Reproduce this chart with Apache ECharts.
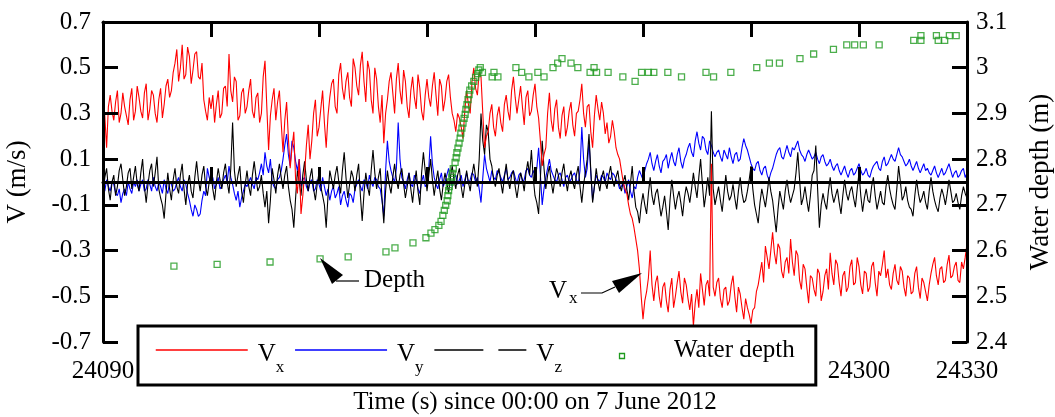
<!DOCTYPE html>
<html>
<head>
<meta charset="utf-8">
<title>Velocity and water depth</title>
<script src="https://cdn.jsdelivr.net/npm/echarts@6/dist/echarts.min.js"></script>
<style>
    html, body {margin: 0; padding: 0; background: #fff;}
    #chart {width: 1055px; height: 417px;}
</style>
</head>
<body>
<div id="chart"></div>
<script>
// velocity readings: one on each whole second from t0, plus one half a second later
var t0 = 24090;

// Vx (m/s), red, whole seconds
var vx = [
    0.36, 0.15, 0.38, 0.27, 0.40, 0.30, 0.33, 0.25, 0.41, 0.31,
    0.37, 0.28, 0.43, 0.32, 0.38, 0.26, 0.41, 0.34, 0.45, 0.40,
    0.52, 0.44, 0.60, 0.47, 0.55, 0.49, 0.57, 0.45, 0.36, 0.27,
    0.32, 0.26, 0.40, 0.30, 0.42, 0.56, 0.35, 0.44, 0.29, 0.41,
    0.33, 0.45, 0.28, 0.39, 0.30, 0.53, 0.14, 0.36, 0.27, 0.40,
    0.13, 0.35, 0.06, 0.22, -0.05, -0.14, 0.04, 0.25, 0.18, 0.36,
    0.24, 0.40, 0.15, 0.37, 0.45, 0.30, 0.52, 0.36, 0.48, 0.33,
    0.50, 0.38, 0.57, 0.35, 0.49, 0.30, 0.45, 0.26, 0.17, 0.36,
    0.48, 0.30, 0.52, 0.34, 0.44, 0.28, 0.46, 0.32, 0.41, 0.27,
    0.45, 0.33, 0.48, 0.29, 0.42, 0.36, 0.47, 0.30, 0.22, 0.28,
    0.19, 0.40, 0.30, 0.50, 0.38, 0.46, 0.15, 0.22, 0.34, 0.20,
    0.33, 0.22, 0.38, 0.27, 0.46, 0.30, 0.42, 0.25, 0.40, 0.31,
    0.43, 0.28, 0.07, 0.15, 0.39, 0.22, 0.36, 0.19, 0.33, 0.24,
    0.35, 0.20, 0.31, 0.43, 0.24, 0.34, 0.15, 0.38, 0.27, 0.30,
    0.26, 0.20, 0.22, 0.12, 0.05, -0.03, -0.10, -0.16, -0.25, -0.38,
    -0.60, -0.48, -0.30, -0.52, -0.41, -0.55, -0.44, -0.57, -0.42, -0.50,
    -0.39, -0.53, -0.45, -0.56, -0.63, -0.47, -0.40, -0.54, -0.43, 0.08,
    -0.50, -0.42, -0.55, -0.46, -0.52, -0.41, -0.57, -0.49, -0.60, -0.55,
    -0.62, -0.55, -0.45, -0.35, -0.28, -0.38, -0.22, -0.36, -0.29, -0.42,
    -0.33, -0.25, -0.41, -0.32, -0.47, -0.38, -0.53, -0.42, -0.50, -0.40,
    -0.48, -0.38, -0.31, -0.45, -0.36, -0.50, -0.39, -0.46, -0.34, -0.44,
    -0.37, -0.49, -0.40, -0.46, -0.35, -0.50, -0.41, -0.30, -0.38, -0.47,
    -0.36, -0.45, -0.39, -0.50, -0.42, -0.48, -0.37, -0.51, -0.44, -0.52,
    -0.40, -0.33, -0.45, -0.37, -0.43, -0.32, -0.41, -0.35, -0.44, -0.38, -0.27
];
// Vx, half seconds
var vxHalf = [
    0.29, 0.33, 0.31, 0.35, 0.26, 0.39, 0.29, 0.36, 0.27, 0.42,
    0.31, 0.39, 0.27, 0.40, 0.30, 0.36, 0.28, 0.42, 0.37, 0.48,
    0.58, 0.50, 0.45, 0.59, 0.43, 0.56, 0.46, 0.52, 0.31, 0.37,
    0.38, 0.34, 0.28, 0.41, 0.33, 0.40, 0.46, 0.27, 0.39, 0.30,
    0.40, 0.31, 0.37, 0.26, 0.46, 0.33, 0.29, 0.41, 0.35, 0.26,
    0.27, 0.19, 0.15, 0.01, 0.10, -0.06, 0.16, 0.10, 0.30, 0.20,
    0.32, 0.26, 0.29, 0.43, 0.33, 0.47, 0.41, 0.44, 0.37, 0.54,
    0.42, 0.51, 0.44, 0.53, 0.36, 0.50, 0.33, 0.38, 0.30, 0.44,
    0.39, 0.45, 0.40, 0.49, 0.33, 0.40, 0.37, 0.47, 0.31, 0.38,
    0.37, 0.42, 0.38, 0.45, 0.31, 0.44, 0.37, 0.27, 0.30, 0.24,
    0.31, 0.34, 0.44, 0.41, 0.48, 0.30, 0.20, 0.30, 0.24, 0.29,
    0.26, 0.34, 0.31, 0.40, 0.37, 0.36, 0.33, 0.37, 0.29, 0.38,
    0.33, 0.18, 0.12, 0.30, 0.27, 0.32, 0.24, 0.29, 0.20, 0.31,
    0.25, 0.30, 0.36, 0.30, 0.33, 0.22, 0.29, 0.32, 0.35, 0.21,
    0.17, 0.27, 0.15, 0.10, 0.00, -0.05, -0.14, -0.20, -0.30, -0.50,
    -0.52, -0.42, -0.45, -0.44, -0.50, -0.46, -0.52, -0.47, -0.55, -0.44,
    -0.48, -0.42, -0.51, -0.49, -0.53, -0.55, -0.47, -0.45, -0.50, -0.46,
    -0.44, -0.51, -0.47, -0.54, -0.45, -0.50, -0.46, -0.55, -0.51, -0.58,
    -0.56, -0.48, -0.40, -0.44, -0.33, -0.30, -0.31, -0.27, -0.39, -0.35,
    -0.40, -0.35, -0.30, -0.43, -0.36, -0.46, -0.41, -0.47, -0.38, -0.52,
    -0.41, -0.47, -0.40, -0.34, -0.44, -0.41, -0.48, -0.37, -0.45, -0.33,
    -0.45, -0.39, -0.48, -0.37, -0.44, -0.39, -0.36, -0.42, -0.45, -0.40,
    -0.43, -0.37, -0.46, -0.41, -0.49, -0.40, -0.46, -0.42, -0.48, -0.45,
    -0.36, -0.41, -0.38, -0.44, -0.36, -0.42, -0.37, -0.43, -0.35, -0.33
];

// Vy (m/s), blue
var vy = [
    -0.02, 0.01, -0.04, -0.01, -0.06, -0.09, -0.03, 0.00, -0.05, -0.02,
    -0.04, 0.01, -0.03, -0.01, 0.02, -0.04, -0.02, 0.01, -0.05, -0.01,
    -0.03, 0.02, -0.04, -0.01, -0.08, -0.15, -0.12, -0.14, -0.04, 0.06,
    0.00, -0.03, 0.02, -0.02, 0.03, 0.07, -0.01, -0.08, -0.11, -0.04,
    -0.02, 0.02, -0.03, 0.01, 0.08, 0.13, 0.04, 0.00, -0.03, 0.02,
    0.10, 0.21, 0.07, 0.15, 0.05, -0.02, 0.02, -0.04, 0.01, -0.03,
    -0.01, 0.02, -0.06, -0.08, -0.02, -0.05, -0.10, -0.04, -0.11, -0.06,
    -0.03, 0.01, -0.04, 0.00, 0.03, -0.02, 0.01, -0.03, -0.15, 0.18,
    0.05, 0.00, 0.26, 0.02, -0.03, 0.04, -0.02, 0.01, -0.05, 0.03,
    -0.01, 0.20, 0.02, -0.03, 0.04, 0.00, 0.06, -0.02, 0.03, 0.01,
    -0.02, 0.04, 0.01, 0.03, 0.02, -0.09, 0.12, 0.03, 0.05, 0.01,
    0.04, 0.00, 0.06, 0.02, 0.05, -0.01, 0.04, 0.01, 0.06, 0.02,
    0.03, 0.15, -0.10, 0.02, 0.10, 0.03, 0.00, 0.04, -0.02, 0.03,
    0.01, 0.04, -0.01, 0.24, 0.02, 0.18, -0.08, 0.03, 0.00, 0.02,
    0.04, 0.01, 0.03, 0.00, -0.02, -0.05, 0.01, -0.07, -0.03, 0.05,
    0.01, 0.08, 0.13, 0.05, 0.12, 0.04, 0.10, 0.06, 0.13, 0.07,
    0.15, 0.06, 0.12, 0.17, 0.11, 0.22, 0.14, 0.19, 0.12, 0.16,
    0.11, 0.14, 0.09, 0.12, 0.15, 0.08, 0.13, 0.10, 0.19, 0.14,
    0.08, 0.05, 0.09, 0.03, 0.07, 0.01, 0.06, 0.12, 0.15, 0.10,
    0.16, 0.11, 0.14, 0.18, 0.12, 0.09, 0.14, 0.10, 0.13, 0.08,
    0.12, 0.07, 0.10, 0.05, 0.08, 0.03, 0.07, 0.02, 0.06, 0.04,
    0.08, 0.03, 0.06, 0.02, 0.07, 0.09, 0.05, 0.11, 0.08, 0.12,
    0.09, 0.15, 0.11, 0.07, 0.10, 0.05, 0.09, 0.04, 0.08, 0.06,
    0.03, 0.07, 0.02, 0.06, 0.04, 0.08, 0.02, 0.05, 0.03, 0.06, 0.04
];
var vyHalf = [
    -0.04, -0.02, 0.00, -0.05, -0.03, -0.05, -0.06, -0.03, 0.00, 0.01,
    -0.01, -0.04, 0.01, -0.04, -0.02, 0.00, -0.05, -0.03, 0.00, -0.04,
    0.00, -0.02, 0.01, -0.05, -0.12, -0.10, -0.15, -0.08, -0.06, 0.02,
    0.02, -0.01, -0.03, 0.01, 0.00, 0.02, -0.05, -0.04, -0.07, -0.01,
    0.00, -0.01, 0.02, 0.04, 0.03, 0.07, 0.10, -0.02, 0.01, 0.05,
    0.16, 0.12, 0.18, 0.09, 0.10, 0.01, -0.02, 0.00, -0.04, 0.01,
    -0.04, -0.02, -0.03, -0.04, -0.07, -0.02, -0.06, -0.08, -0.05, -0.09,
    -0.01, -0.02, 0.01, -0.03, 0.00, 0.02, -0.02, -0.08, 0.05, 0.09,
    0.02, 0.06, 0.10, 0.00, 0.01, -0.01, 0.03, -0.03, 0.00, -0.02,
    0.06, 0.08, -0.01, 0.01, -0.02, 0.03, 0.01, 0.02, -0.01, 0.03,
    0.01, -0.01, 0.04, 0.00, -0.03, 0.02, 0.06, 0.00, 0.02, 0.05,
    0.02, 0.03, 0.01, 0.04, 0.02, 0.03, 0.00, 0.05, 0.03, 0.05,
    0.06, 0.03, -0.03, 0.06, 0.05, 0.01, 0.03, 0.01, 0.02, 0.00,
    0.03, 0.01, 0.05, 0.10, 0.06, 0.04, -0.02, 0.01, 0.03, 0.00,
    0.02, 0.04, 0.01, -0.03, 0.00, -0.02, -0.04, -0.02, 0.02, 0.03,
    0.05, 0.10, 0.08, 0.09, 0.07, 0.09, 0.12, 0.10, 0.09, 0.12,
    0.09, 0.10, 0.15, 0.13, 0.18, 0.17, 0.20, 0.14, 0.18, 0.13,
    0.13, 0.11, 0.14, 0.10, 0.11, 0.12, 0.09, 0.15, 0.16, 0.11,
    0.06, 0.08, 0.05, 0.06, 0.03, 0.04, 0.09, 0.14, 0.11, 0.13,
    0.13, 0.15, 0.16, 0.14, 0.11, 0.12, 0.12, 0.11, 0.10, 0.11,
    0.09, 0.08, 0.07, 0.07, 0.05, 0.05, 0.04, 0.05, 0.03, 0.06,
    0.05, 0.04, 0.03, 0.05, 0.08, 0.06, 0.09, 0.07, 0.10, 0.10,
    0.12, 0.12, 0.09, 0.08, 0.07, 0.07, 0.06, 0.06, 0.05, 0.04,
    0.05, 0.04, 0.04, 0.03, 0.06, 0.05, 0.04, 0.02, 0.05, 0.02
];

// Vz (m/s), black
var vz = [
    -0.05, 0.06, -0.08, 0.03, -0.02, 0.08, -0.06, 0.04, -0.03, 0.07,
    -0.04, 0.10, -0.09, 0.05, -0.02, 0.11, -0.07, -0.16, 0.04, -0.08,
    0.06, -0.05, 0.08, -0.10, 0.03, -0.07, 0.09, -0.04, 0.07, -0.06,
    0.04, -0.08, 0.06, -0.03, 0.08, -0.05, 0.26, -0.02, 0.07, -0.09,
    0.05, -0.06, 0.09, -0.04, 0.03, -0.11, -0.18, 0.06, -0.05, 0.08,
    -0.03, 0.07, -0.08, -0.20, 0.05, -0.06, 0.09, -0.04, 0.06, -0.08,
    0.04, -0.06, -0.20, 0.05, -0.03, 0.07, -0.05, 0.13, -0.07, 0.05,
    -0.04, 0.08, -0.17, 0.04, -0.06, 0.14, -0.03, 0.06, -0.18, 0.05,
    -0.05, 0.08, -0.03, 0.06, -0.07, 0.04, -0.09, 0.05, -0.10, 0.13,
    -0.04, 0.10, -0.06, 0.05, -0.08, 0.04, -0.05, 0.07, -0.03, 0.06,
    -0.07, 0.05, -0.04, 0.08, -0.02, 0.30, 0.12, 0.22, 0.07, -0.02,
    0.06, -0.05, 0.08, -0.03, 0.05, -0.07, 0.04, -0.04, 0.09, 0.14,
    -0.06, -0.14, 0.18, -0.03, 0.07, -0.05, 0.06, -0.02, 0.08, -0.04,
    0.05, -0.03, 0.07, -0.09, 0.04, 0.21, -0.09, 0.06, -0.04, 0.05,
    -0.03, 0.07, -0.02, 0.05, -0.04, 0.03, -0.08, 0.07, -0.11, -0.18,
    -0.05, -0.14, 0.02, -0.10, -0.03, -0.15, -0.06, -0.21, 0.01, -0.12,
    -0.04, -0.15, -0.02, -0.09, 0.04, -0.07, 0.10, -0.11, 0.02, 0.31,
    -0.10, -0.02, -0.13, 0.03, -0.08, -0.01, -0.12, 0.02, -0.09, -0.04,
    0.07, -0.10, -0.18, -0.03, -0.11, 0.02, -0.08, -0.22, -0.04, -0.12,
    0.01, -0.09, -0.03, 0.13, -0.10, -0.02, -0.13, 0.03, 0.16, -0.20,
    -0.05, -0.12, 0.02, -0.09, -0.03, -0.14, 0.01, -0.08, -0.02, -0.11,
    0.04, -0.13, -0.03, -0.09, 0.02, -0.12, -0.04, -0.10, 0.03, -0.07,
    -0.12, 0.07, -0.08, -0.02, -0.11, -0.15, 0.01, -0.09, -0.04, -0.12,
    0.02, -0.08, -0.13, -0.03, -0.10, 0.01, -0.09, -0.05, -0.12, -0.02, -0.07
];
var vzHalf = [
    0.02, -0.03, 0.00, -0.06, 0.05, 0.01, -0.02, 0.06, 0.02, -0.01,
    0.04, -0.02, -0.01, 0.08, 0.04, -0.03, -0.10, -0.05, -0.03, 0.01,
    -0.02, 0.03, -0.03, -0.01, -0.04, 0.02, 0.01, 0.03, -0.02, 0.00,
    -0.03, 0.00, 0.01, 0.04, 0.00, 0.06, 0.05, 0.03, -0.04, -0.01,
    -0.02, 0.03, 0.02, -0.02, -0.05, -0.04, -0.08, 0.01, 0.03, 0.02,
    0.03, -0.02, -0.12, -0.07, 0.00, 0.03, 0.01, 0.02, -0.03, -0.01,
    -0.02, -0.10, -0.06, 0.01, 0.03, 0.00, 0.05, 0.02, -0.01, 0.02,
    0.03, -0.06, -0.05, -0.02, 0.05, 0.04, 0.02, -0.07, -0.04, -0.01,
    0.02, 0.01, 0.03, -0.01, -0.02, -0.03, -0.01, -0.04, 0.04, 0.05,
    0.03, 0.01, 0.00, -0.03, -0.01, 0.00, 0.02, 0.01, 0.03, -0.02,
    -0.01, 0.00, 0.03, 0.02, 0.10, 0.18, 0.25, 0.10, 0.01, 0.03,
    0.00, 0.02, 0.01, 0.03, -0.02, -0.01, 0.01, 0.04, 0.03, 0.02,
    -0.09, 0.02, 0.06, 0.03, 0.00, 0.01, 0.03, 0.04, 0.01, 0.02,
    0.00, 0.03, -0.02, -0.01, 0.10, 0.05, -0.02, 0.00, 0.02, 0.00,
    0.03, 0.01, 0.02, -0.01, 0.00, -0.03, -0.01, -0.04, -0.13, -0.10,
    -0.10, -0.05, -0.06, -0.05, -0.09, -0.11, -0.13, -0.08, -0.06, -0.07,
    -0.09, -0.07, -0.05, -0.03, -0.02, 0.02, -0.01, -0.05, -0.06, -0.03,
    -0.06, -0.08, -0.05, -0.04, -0.06, -0.07, -0.04, -0.05, -0.08, 0.01,
    -0.03, -0.14, -0.09, -0.07, -0.05, -0.04, -0.15, -0.12, -0.08, -0.04,
    -0.05, -0.06, 0.04, 0.01, -0.07, -0.08, -0.06, 0.05, -0.03, -0.10,
    -0.09, -0.04, -0.05, -0.06, -0.09, -0.06, -0.05, -0.04, -0.07, -0.03,
    -0.06, -0.07, -0.08, -0.02, -0.06, -0.08, -0.09, -0.02, -0.03, -0.10,
    -0.03, 0.00, -0.06, -0.08, -0.12, -0.06, -0.05, -0.07, -0.09, -0.04,
    -0.04, -0.11, -0.07, -0.06, -0.05, -0.04, -0.08, -0.09, -0.06, -0.05
];

// water depth samples (irregular times)
var depthTime = [
    24109.7, 24121.7, 24136.4, 24150.3, 24158.1, 24168.6, 24171.1, 24176.1, 24179.7, 24181.1, 24182.2, 24183.3, 24183.9,
    24184.4, 24184.8, 24185.2, 24185.6, 24185.8, 24186.0, 24186.2, 24186.5, 24186.9, 24187.0, 24187.3,
    24187.8, 24188.1, 24188.3, 24188.6, 24188.9, 24189.2, 24189.4, 24189.7, 24190.0, 24190.3, 24190.6,
    24190.8, 24191.1, 24191.4, 24191.7, 24191.9, 24192.4, 24193.0, 24193.5, 24194.1, 24194.4, 24194.8,
    24195.4, 24198.1, 24198.6, 24199.7, 24204.7, 24206.3, 24208.3, 24210.8, 24212.5, 24215.0,
    24216.3, 24217.5, 24220.0, 24221.9, 24225.3, 24226.4, 24227.1, 24230.3, 24234.4, 24237.8,
    24239.6, 24241.5, 24243.0, 24246.9, 24250.7, 24257.5, 24259.6, 24264.4, 24271.6, 24275.1,
    24277.9, 24283.6, 24287.4, 24292.9, 24296.6, 24298.8, 24301.2, 24305.6, 24315.2, 24317.2,
    24317.2, 24321.5, 24322.0, 24323.8, 24325.1, 24327.0
];
var depth = [
    2.566, 2.570, 2.575, 2.582, 2.586, 2.597, 2.606, 2.617, 2.628, 2.638, 2.646, 2.655, 2.664,
    2.677, 2.688, 2.699, 2.709, 2.720, 2.731, 2.740, 2.750, 2.760, 2.769, 2.779,
    2.793, 2.803, 2.814, 2.824, 2.835, 2.846, 2.857, 2.868, 2.879, 2.889, 2.898,
    2.909, 2.919, 2.930, 2.941, 2.951, 2.960, 2.970, 2.979, 2.987, 2.995, 3.000,
    2.99, 2.98, 2.99, 2.98, 3.00, 2.99, 2.98, 2.99, 2.98, 3.00,
    3.01, 3.02, 3.01, 3.00, 2.99, 3.00, 2.99, 2.99, 2.98, 2.97,
    2.99, 2.99, 2.99, 2.99, 2.98, 2.99, 2.98, 2.99, 3.00, 3.01,
    3.01, 3.02, 3.03, 3.04, 3.05, 3.05, 3.05, 3.05, 3.06, 3.07,
    3.06, 3.07, 3.06, 3.06, 3.07, 3.07
];

var font = "'Liberation Serif', 'Times New Roman', serif";
var green = '#1f9a1f';

// merge whole-second and half-second readings into [t, v] pairs
function pairs(whole, half) {
    var res = [];
    for (var i = 0; i < whole.length; i++) {
        res.push([t0 + i, whole[i]]);
        if (i < half.length) res.push([t0 + i + 0.5, half[i]]);
    }
    return res;
}

var depthData = [];
for (var i = 0; i < depth.length; i++) {
    depthData.push([depthTime[i], depth[i]]);
}

var chart = echarts.init(document.getElementById('chart'));

var tick = {show: true, inside: true, length: 15, lineStyle: {color: '#000', width: 3}};
var line = {show: true, lineStyle: {color: '#000', width: 3}};
var oneDecimal = function (v) {
    return String(+v.toFixed(1));
};
var hidden = {color: 'rgba(0,0,0,0)', borderWidth: 0};

var option = {
    animation: false,
    backgroundColor: '#fff',
    grid: {left: 103, right: 88, top: 22, bottom: 75, containLabel: false, outerBoundsMode: 'none'},
    xAxis: [
        {
            type: 'value', min: 24090, max: 24330, interval: 30, z: 10,
            axisLine: line, axisTick: tick, splitLine: {show: false},
            axisLabel: {
                color: '#000', fontFamily: font, fontSize: 25, margin: 17,
                formatter: function (v) { return String(v); }
            },
            name: 'Time (s) since 00:00 on 7 June 2012', nameLocation: 'middle', nameGap: 48,
            nameTextStyle: {color: '#000', fontFamily: font, fontSize: 25}
        },
        {
            type: 'value', position: 'top', min: 24090, max: 24330, interval: 30, z: 10,
            axisLine: line, axisTick: tick, axisLabel: {show: false}, splitLine: {show: false}
        }
    ],
    yAxis: [
        {
            type: 'value', min: -0.7, max: 0.7, interval: 0.2, z: 10,
            axisLine: line, axisTick: tick, splitLine: {show: false},
            axisLabel: {color: '#000', fontFamily: font, fontSize: 25, margin: 12, formatter: oneDecimal},
            name: 'V (m/s)', nameLocation: 'middle', nameGap: 72, nameRotate: 90,
            nameTextStyle: {color: '#000', fontFamily: font, fontSize: 27}
        },
        {
            type: 'value', position: 'right', min: 2.4, max: 3.1, interval: 0.1, z: 10,
            axisLine: line, axisTick: tick, splitLine: {show: false},
            axisLabel: {color: '#000', fontFamily: font, fontSize: 25, margin: 9, formatter: oneDecimal},
            name: 'Water depth (m)', nameLocation: 'middle', nameGap: 60, nameRotate: 90,
            nameTextStyle: {color: '#000', fontFamily: font, fontSize: 27}
        }
    ],
    legend: {
        left: 138, top: 326, z: 20,
        padding: [9, 21, 9, 17],
        itemWidth: 92, itemHeight: 6, itemGap: 10,
        backgroundColor: '#fff', borderColor: '#000', borderWidth: 3, borderRadius: 0,
        data: [
            {name: 'Vx', lineStyle: {width: 1.5}, itemStyle: hidden},
            {name: 'Vy', lineStyle: {width: 1.5}, itemStyle: hidden},
            {name: 'Vz', lineStyle: {width: 1.5, type: [49, 15, 28, 100]}, itemStyle: hidden},
            // the small square for this entry is drawn in graphic below
            {name: 'Water depth', icon: 'rect', itemStyle: hidden}
        ],
        formatter: function (name) {
            if (name === 'Water depth') return '{w|Water depth}';
            return '{v|V}{s|' + name.slice(1) + '}';
        },
        textStyle: {
            color: '#000', fontFamily: font, fontSize: 25,
            rich: {
                v: {fontFamily: font, fontSize: 25, lineHeight: 30, padding: [7, 0, 0, 5], verticalAlign: 'top'},
                s: {fontFamily: font, fontSize: 17, lineHeight: 20, padding: [24, 0, 0, 0], verticalAlign: 'top'},
                w: {fontFamily: font, fontSize: 25, lineHeight: 30, padding: [0, 0, 0, 5]}
            }
        }
    },
    series: [
        {
            name: 'Vx', type: 'line', data: pairs(vx, vxHalf), symbol: 'none', z: 5,
            lineStyle: {color: '#ff0000', width: 1.1}, itemStyle: {color: '#ff0000'}
        },
        {
            name: 'Vy', type: 'line', data: pairs(vy, vyHalf), symbol: 'none', z: 2,
            lineStyle: {color: '#0000ff', width: 1.1}, itemStyle: {color: '#0000ff'}
        },
        {
            name: 'Vz', type: 'line', data: pairs(vz, vzHalf), symbol: 'none', z: 3,
            lineStyle: {color: '#000', width: 1.1}, itemStyle: {color: '#000'},
            markLine: {
                silent: true, symbol: 'none', animation: false,
                label: {show: false},
                lineStyle: {color: '#000', width: 3, type: 'solid'},
                data: [{yAxis: 0}]
            }
        },
        {
            name: 'Water depth', type: 'scatter', yAxisIndex: 1, data: depthData,
            symbol: 'rect', symbolSize: 6, z: 6,
            itemStyle: {color: 'rgba(0,0,0,0)', borderColor: green, borderWidth: 1.3}
        }
    ],
    // arrows and labels pointing at the curves, and the legend square
    graphic: [
        {type: 'polygon', z: 30, shape: {points: [[320, 258], [332, 284], [343, 275]]}, style: {fill: '#000'}},
        {type: 'polyline', z: 30, shape: {points: [[336, 281], [359, 281]]}, style: {stroke: '#000', lineWidth: 1.2}},
        {type: 'text', z: 30, left: 364, top: 268, style: {text: 'Depth', font: '25px ' + font, fill: '#000'}},
        {type: 'polygon', z: 30, shape: {points: [[642, 273], [612, 281], [619, 293]]}, style: {fill: '#000'}},
        {type: 'polyline', z: 30, shape: {points: [[581, 293], [602, 293], [615, 287]]}, style: {stroke: '#000', lineWidth: 1.2}},
        {type: 'text', z: 30, left: 549, top: 279, style: {text: 'V', font: '25px ' + font, fill: '#000'}},
        {type: 'text', z: 30, left: 569, top: 290, style: {text: 'x', font: '17px ' + font, fill: '#000'}},
        {type: 'rect', z: 40, shape: {x: 619.5, y: 353.5, width: 5, height: 5}, style: {fill: 'none', stroke: green, lineWidth: 1.3}}
    ]
};

chart.setOption(option);
</script>
</body>
</html>
